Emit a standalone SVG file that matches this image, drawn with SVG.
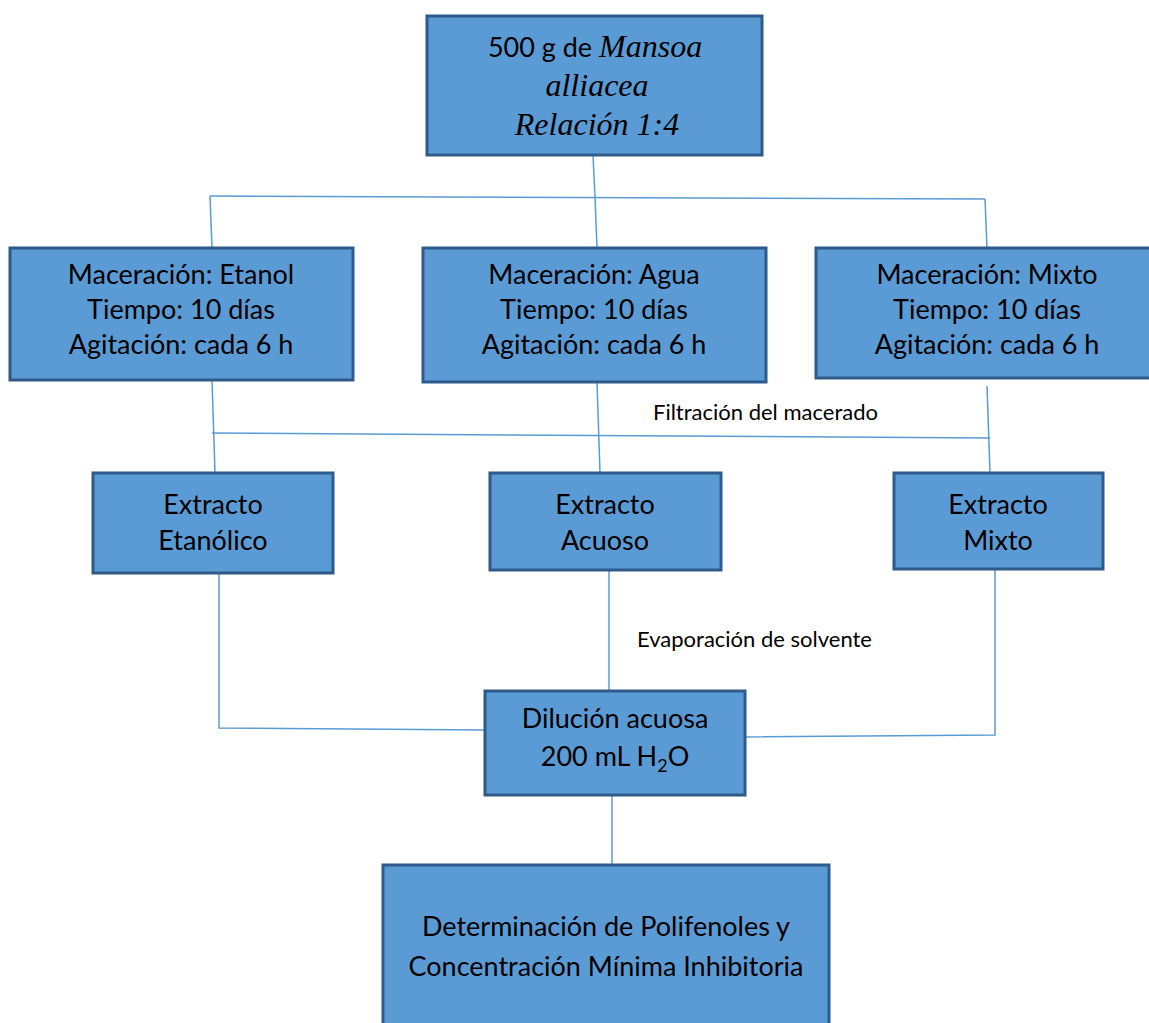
<svg xmlns="http://www.w3.org/2000/svg" width="1149" height="1023" viewBox="0 0 1149 1023">
<style>
.box{fill:#5B9BD5;stroke:#2F5B8A;stroke-width:3}
.t{font-family:Lato,"Open Sans",sans-serif;font-size:27px;fill:#000;text-anchor:middle}
.s{font-family:Lato,"Open Sans",sans-serif;font-size:22px;fill:#000}
.i{font-family:"Liberation Serif",serif;font-style:italic;font-size:32px}
.c{stroke:#5B9BD5;stroke-width:1.5;fill:none}
</style>
<rect width="1149" height="1023" fill="#fff"/>
<g id="connectors">
<path class="c" d="M593 155 L595 197"/>
<path class="c" d="M210 196 L985 199"/>
<path class="c" d="M210 196 L212 248"/>
<path class="c" d="M595 197 L597 248"/>
<path class="c" d="M985 199 L987 248"/>
<path class="c" d="M212 380 L215 473"/>
<path class="c" d="M597 382 L600 473"/>
<path class="c" d="M987 386 L990 473"/>
<path class="c" d="M212 433 L990 438"/>
<path class="c" d="M219 573 L219 728 L485 730"/>
<path class="c" d="M609 570 L609 691"/>
<path class="c" d="M745 737 L995 735 L995 569"/>
<path class="c" d="M612 795 L612 865"/>
</g>
<g id="n-start">
<rect class="box" x="427" y="16" width="335" height="139"/>
<text class="t" x="595" y="57"><tspan>500 g de </tspan><tspan class="i">Mansoa</tspan></text>
<text class="t i" x="597" y="96">alliacea</text>
<text class="t i" x="597" y="135">Relación 1:4</text>
</g>
<g id="n-etanol">
<rect class="box" x="10" y="248" width="343" height="132"/>
<text class="t" x="181" y="284">Maceración: Etanol</text>
<text class="t" x="181" y="319">Tiempo: 10 días</text>
<text class="t" x="181" y="354">Agitación: cada 6 h</text>
</g>
<g id="n-agua">
<rect class="box" x="423" y="248" width="343" height="134"/>
<text class="t" x="594" y="284">Maceración: Agua</text>
<text class="t" x="594" y="319">Tiempo: 10 días</text>
<text class="t" x="594" y="354">Agitación: cada 6 h</text>
</g>
<g id="n-mixto">
<rect class="box" x="816" y="248" width="340" height="130"/>
<text class="t" x="987" y="284">Maceración: Mixto</text>
<text class="t" x="987" y="319">Tiempo: 10 días</text>
<text class="t" x="987" y="354">Agitación: cada 6 h</text>
</g>
<text class="s" x="653" y="420">Filtración del macerado</text>
<g id="n-ext-etanolico">
<rect class="box" x="93" y="473" width="240" height="100"/>
<text class="t" x="213" y="514">Extracto</text>
<text class="t" x="213" y="550">Etanólico</text>
</g>
<g id="n-ext-acuoso">
<rect class="box" x="490" y="473" width="231" height="97"/>
<text class="t" x="605" y="514">Extracto</text>
<text class="t" x="605" y="550">Acuoso</text>
</g>
<g id="n-ext-mixto">
<rect class="box" x="894" y="473" width="209" height="96"/>
<text class="t" x="998" y="514">Extracto</text>
<text class="t" x="998" y="550">Mixto</text>
</g>
<text class="s" x="637" y="647">Evaporación de solvente</text>
<g id="n-dilucion">
<rect class="box" x="485" y="691" width="260" height="104"/>
<text class="t" x="615" y="728">Dilución acuosa</text>
<text class="t" x="615" y="766">200 mL H<tspan font-size="18" dy="6">2</tspan><tspan dy="-6">O</tspan></text>
</g>
<g id="n-final">
<rect class="box" x="383" y="865" width="446" height="170"/>
<text class="t" x="606" y="936">Determinación de Polifenoles y</text>
<text class="t" x="606" y="976">Concentración Mínima Inhibitoria</text>
</g>
</svg>
